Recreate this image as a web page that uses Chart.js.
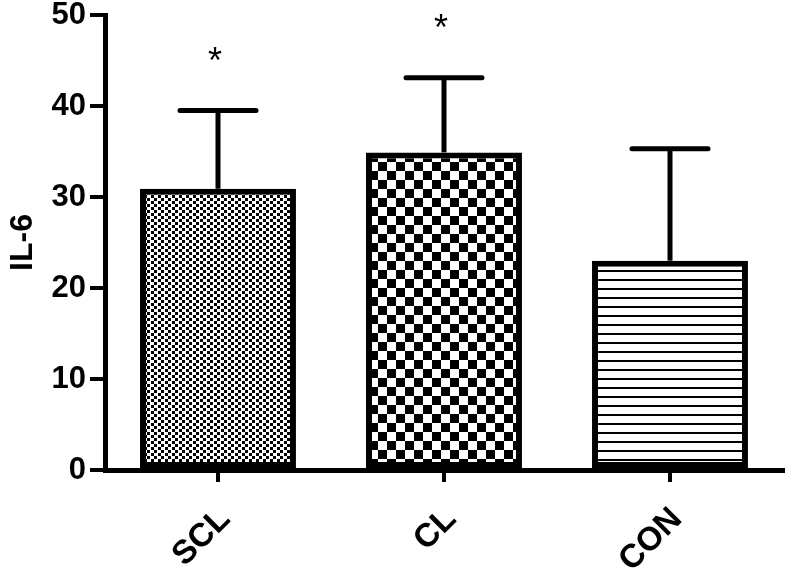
<!DOCTYPE html>
<html>
<head>
<meta charset="utf-8">
<script src="https://cdn.jsdelivr.net/npm/chart.js@4.4.1/dist/chart.umd.min.js"></script>
<style>
  html, body { margin: 0; padding: 0; background: #fff; }
  #wrap { width: 787px; height: 568px; }
</style>
</head>
<body>
<div id="wrap"><canvas id="il6Chart" width="787" height="568"></canvas></div>
<script>
// data
const groups = ['SCL', 'CL', 'CON'];
const il6Mean = [30.9, 34.9, 23.0];
const il6Err = [8.6, 8.2, 12.3];      // upper error (SD/SEM)
const sigMarks = ['*', '*', ''];
const yTicks = [0, 10, 20, 30, 40, 50];

const FONT = '"Liberation Sans", Arial, sans-serif';

// fill patterns
function makePattern(w, h, draw) {
  const c = document.createElement('canvas');
  c.width = w; c.height = h;
  const g = c.getContext('2d');
  g.fillStyle = '#fff';
  g.fillRect(0, 0, w, h);
  g.fillStyle = '#000';
  draw(g);
  return g.createPattern(c, 'repeat');
}
const ctx = document.getElementById('il6Chart').getContext('2d');
const fineChecks = makePattern(7, 6, g => { g.fillRect(0, 0, 3, 3); g.fillRect(4, 3, 3, 3); });
const bigChecks = makePattern(18, 18, g => { g.fillRect(0, 0, 9, 9); g.fillRect(9, 9, 9, 9); });
const hLines = makePattern(4, 9, g => { g.fillRect(0, 0, 4, 2); });

// error bars + significance stars
const errorBars = {
  id: 'errorBars',
  afterDatasetsDraw(chart) {
    const meta = chart.getDatasetMeta(0);
    const y = chart.scales.y;
    const c = chart.ctx;
    c.save();
    c.strokeStyle = '#000';
    c.lineWidth = 5;
    meta.data.forEach((bar, i) => {
      const top = y.getPixelForValue(il6Mean[i] + il6Err[i]);
      c.lineCap = 'butt';
      c.beginPath();
      c.moveTo(bar.x, bar.y);
      c.lineTo(bar.x, top);
      c.stroke();
      c.lineCap = 'round';
      c.beginPath();
      c.moveTo(bar.x - 38, top);
      c.lineTo(bar.x + 38, top);
      c.stroke();
      if (sigMarks[i]) {
        c.fillStyle = '#000';
        c.font = '36px ' + FONT;
        c.textAlign = 'center';
        c.textBaseline = 'alphabetic';
        c.fillText(sigMarks[i], bar.x - 3, top - 59 + 21);
      }
    });
    c.restore();
  }
};

new Chart(ctx, {
  type: 'bar',
  data: {
    labels: groups,
    datasets: [{
      data: il6Mean,
      backgroundColor: [fineChecks, bigChecks, hLines],
      borderColor: '#000',
      borderWidth: 6,
      borderSkipped: false,
      barPercentage: 0.69,
      categoryPercentage: 1
    }]
  },
  options: {
    responsive: false,
    animation: false,
    layout: { padding: { top: 15, right: 4, left: 0, bottom: 0 } },
    plugins: { legend: { display: false }, tooltip: { enabled: false } },
    scales: {
      x: {
        afterFit: s => { s.height = 98; s.paddingLeft = 0; s.paddingRight = 0; },
        grid: { display: true, offset: false, drawOnChartArea: false, color: '#000', lineWidth: 4, tickLength: 12 },
        border: { display: true, color: '#000', width: 5 },
        ticks: {
          color: '#000',
          font: { family: FONT, size: 33, weight: 'bold' },
          maxRotation: 45, minRotation: 45,
          padding: 18,
          labelOffset: 7
        }
      },
      y: {
        min: 0, max: 50,
        afterFit: s => { s.width = 105; s.paddingTop = 0; s.paddingBottom = 0; },
        afterBuildTicks: s => { s.ticks = yTicks.map(v => ({ value: v })); },
        grid: { display: true, drawOnChartArea: false, color: '#000', lineWidth: 4, tickLength: 15 },
        border: { display: true, color: '#000', width: 5 },
        ticks: {
          color: '#000',
          font: { family: FONT, size: 31, weight: 'bold' },
          padding: 4
        },
        title: {
          display: true,
          text: 'IL-6',
          color: '#000',
          font: { family: FONT, size: 32, weight: 'bold' },
          padding: { top: 4, bottom: 0 }
        }
      }
    }
  },
  plugins: [errorBars]
});
</script>
</body>
</html>
